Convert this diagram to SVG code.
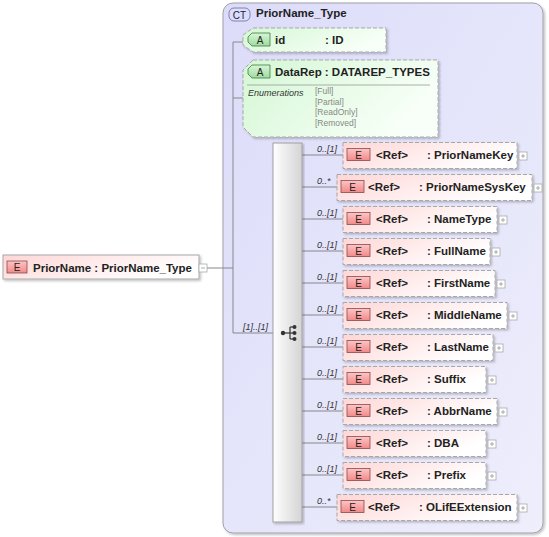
<svg xmlns="http://www.w3.org/2000/svg" width="549" height="537" viewBox="0 0 549 537">
<defs>
<linearGradient id="gCT" x1="0" y1="0" x2="1" y2="1"><stop offset="0" stop-color="#dcdcfa"/><stop offset="1" stop-color="#eeeefc"/></linearGradient>
<linearGradient id="gEl" x1="0" y1="0" x2="1" y2="0.4"><stop offset="0" stop-color="#ffd6d6"/><stop offset="1" stop-color="#ffffff"/></linearGradient>
<linearGradient id="gAt" x1="0" y1="0" x2="1" y2="0.4"><stop offset="0" stop-color="#d4f7d4"/><stop offset="1" stop-color="#f8fff8"/></linearGradient>
<linearGradient id="gEb" x1="0" y1="0" x2="0" y2="1"><stop offset="0" stop-color="#ffc4c4"/><stop offset="1" stop-color="#f08a8a"/></linearGradient>
<linearGradient id="gAb" x1="0" y1="0" x2="0" y2="1"><stop offset="0" stop-color="#d8f5d8"/><stop offset="1" stop-color="#9fdc9f"/></linearGradient>
<linearGradient id="gSeq" x1="0" y1="0" x2="1" y2="0"><stop offset="0" stop-color="#ffffff"/><stop offset="1" stop-color="#d4d4d4"/></linearGradient>
<filter id="sh" x="-5%" y="-5%" width="115%" height="130%"><feDropShadow dx="1.5" dy="1.5" stdDeviation="1" flood-color="#000" flood-opacity="0.25"/></filter>
</defs>
<style>
text{font-family:"Liberation Sans",Arial,sans-serif;fill:#222}
.b{font-weight:bold;font-size:11.5px}
.m{font-style:italic;font-size:9px;fill:#333}
.en{font-size:8.5px;fill:#888}
.badge{font-size:10px;fill:#222}
.el{fill:url(#gEl);stroke:#a8a8a8;stroke-dasharray:4,2;filter:url(#sh)}
.at{fill:url(#gAt);stroke:#a8a8a8;stroke-dasharray:4,2;filter:url(#sh)}
.eb{fill:url(#gEb);stroke:#8a4a4a;stroke-width:0.8}
.ab{fill:url(#gAb);stroke:#3c7a3c;stroke-width:0.8}
.pm{fill:#fff;stroke:#aaa;stroke-width:0.8}
.pms{stroke:#999;stroke-width:0.8}
.ln{stroke:#888;stroke-width:1;fill:none}
</style>

<g id="ct-PriorName_Type">
<rect x="223" y="3" width="320" height="530" rx="10" fill="url(#gCT)" stroke="#a0a0a8" filter="url(#sh)"/>
<rect x="229" y="8" width="21" height="13" rx="5" fill="#dcdcff" stroke="#6a6a9a" stroke-width="0.8"/>
<text x="239.5" y="18.5" class="badge" text-anchor="middle">CT</text>
<text x="256" y="17" class="b">PriorName_Type</text>
</g>

<g id="connectors">
<line class="ln" x1="207" y1="268" x2="233" y2="268"/>
<line class="ln" x1="233" y1="42" x2="233" y2="333"/>
<line class="ln" x1="233" y1="42" x2="243" y2="42"/>
<line class="ln" x1="233" y1="98" x2="243" y2="98"/>
<line class="ln" x1="233" y1="333" x2="273" y2="333"/>
<text x="243" y="330" class="m">[1]..[1]</text>
<g class="ln">
<line x1="302" y1="155" x2="343" y2="155"/>
<line x1="302" y1="187" x2="337" y2="187"/>
<line x1="302" y1="219" x2="343" y2="219"/>
<line x1="302" y1="251" x2="343" y2="251"/>
<line x1="302" y1="283" x2="343" y2="283"/>
<line x1="302" y1="315" x2="343" y2="315"/>
<line x1="302" y1="347" x2="343" y2="347"/>
<line x1="302" y1="379" x2="343" y2="379"/>
<line x1="302" y1="411" x2="343" y2="411"/>
<line x1="302" y1="443" x2="343" y2="443"/>
<line x1="302" y1="475" x2="343" y2="475"/>
<line x1="302" y1="507" x2="337" y2="507"/>
</g>
<text x="317" y="152" class="m">0..[1]</text>
<text x="317" y="184" class="m">0..*</text>
<text x="317" y="216" class="m">0..[1]</text>
<text x="317" y="248" class="m">0..[1]</text>
<text x="317" y="280" class="m">0..[1]</text>
<text x="317" y="312" class="m">0..[1]</text>
<text x="317" y="344" class="m">0..[1]</text>
<text x="317" y="376" class="m">0..[1]</text>
<text x="317" y="408" class="m">0..[1]</text>
<text x="317" y="440" class="m">0..[1]</text>
<text x="317" y="472" class="m">0..[1]</text>
<text x="317" y="504" class="m">0..*</text>
</g>

<g id="el-PriorName">
<rect x="3" y="255" width="196" height="24" fill="url(#gEl)" stroke="#a8a8a8" filter="url(#sh)"/>
<rect x="7" y="261" width="20" height="12" class="eb"/>
<text x="17" y="271" class="badge" text-anchor="middle">E</text>
<text x="33" y="271.5" class="b">PriorName : PriorName_Type</text>
<rect x="199" y="264" width="8" height="8" class="pm"/>
<line x1="201" y1="268" x2="205" y2="268" class="pms"/>
</g>

<g id="attr-id">
<path d="M253,28 H386 V52 H253 L243,45 V35 Z" class="at"/>
<path d="M252,33 H270 V46 H252 L248,42 V37 Z" class="ab"/>
<text x="260" y="43.5" class="badge" text-anchor="middle">A</text>
<text x="275" y="44" class="b">id</text>
<text x="325" y="44" class="b">: ID</text>
</g>

<g id="attr-DataRep">
<path d="M253,60 H438 V137 H253 L243,127 V70 Z" class="at"/>
<path d="M252,65 H270 V78 H252 L248,74 V69 Z" class="ab"/>
<text x="260" y="75.5" class="badge" text-anchor="middle">A</text>
<text x="275" y="76" class="b">DataRep : DATAREP_TYPES</text>
<line x1="247" y1="85" x2="430" y2="85" stroke="#999" stroke-width="0.8"/>
<text x="248" y="96" class="m">Enumerations</text>
<text x="315" y="94" class="en">[Full]</text>
<text x="315" y="104.5" class="en">[Partial]</text>
<text x="315" y="115" class="en">[ReadOnly]</text>
<text x="315" y="126" class="en">[Removed]</text>
</g>

<g id="sequence">
<rect x="273" y="143" width="29" height="379" fill="url(#gSeq)" stroke="#a0a0a0" filter="url(#sh)"/>
<circle cx="283" cy="333" r="2.2" fill="#333"/>
<line x1="283" y1="333" x2="290" y2="333" stroke="#333" stroke-width="1.2"/>
<line x1="290" y1="327" x2="290" y2="339" stroke="#333" stroke-width="1.2"/>
<line x1="290" y1="327" x2="294" y2="327" stroke="#333" stroke-width="1.2"/>
<line x1="290" y1="339" x2="294" y2="339" stroke="#333" stroke-width="1.2"/>
<line x1="290" y1="333" x2="294" y2="333" stroke="#333" stroke-width="1.2"/>
<circle cx="294.5" cy="327" r="2" fill="#333"/>
<circle cx="294.5" cy="333" r="2" fill="#333"/>
<circle cx="294.5" cy="339" r="2" fill="#333"/>
</g>

<g id="el-PriorNameKey">
<rect x="343" y="142.5" width="174" height="26" class="el"/>
<rect x="347" y="148.5" width="23" height="12" class="eb"/><text x="358.5" y="158.5" class="badge" text-anchor="middle">E</text>
<text x="376" y="159" class="b">&lt;Ref&gt;</text><text x="427" y="159" class="b">: PriorNameKey</text>
<rect x="519" y="152" width="8" height="8" class="pm"/><path d="M521,156H525M523,154V158" class="pms"/>
</g>
<g id="el-PriorNameSysKey">
<rect x="337" y="174.5" width="195" height="26" class="el"/>
<rect x="341" y="180.5" width="23" height="12" class="eb"/><text x="352.5" y="190.5" class="badge" text-anchor="middle">E</text>
<text x="368" y="191" class="b">&lt;Ref&gt;</text><text x="419" y="191" class="b">: PriorNameSysKey</text>
<rect x="534" y="184" width="8" height="8" class="pm"/><path d="M536,188H540M538,186V190" class="pms"/>
</g>
<g id="el-NameType">
<rect x="343" y="206.5" width="154" height="26" class="el"/>
<rect x="347" y="212.5" width="23" height="12" class="eb"/><text x="358.5" y="222.5" class="badge" text-anchor="middle">E</text>
<text x="376" y="223" class="b">&lt;Ref&gt;</text><text x="427" y="223" class="b">: NameType</text>
<rect x="499" y="216" width="8" height="8" class="pm"/><path d="M501,220H505M503,218V222" class="pms"/>
</g>
<g id="el-FullName">
<rect x="343" y="238.5" width="147" height="26" class="el"/>
<rect x="347" y="244.5" width="23" height="12" class="eb"/><text x="358.5" y="254.5" class="badge" text-anchor="middle">E</text>
<text x="376" y="255" class="b">&lt;Ref&gt;</text><text x="427" y="255" class="b">: FullName</text>
<rect x="492" y="248" width="8" height="8" class="pm"/><path d="M494,252H498M496,250V254" class="pms"/>
</g>
<g id="el-FirstName">
<rect x="343" y="270.5" width="152" height="26" class="el"/>
<rect x="347" y="276.5" width="23" height="12" class="eb"/><text x="358.5" y="286.5" class="badge" text-anchor="middle">E</text>
<text x="376" y="287" class="b">&lt;Ref&gt;</text><text x="427" y="287" class="b">: FirstName</text>
<rect x="497" y="280" width="8" height="8" class="pm"/><path d="M499,284H503M501,282V286" class="pms"/>
</g>
<g id="el-MiddleName">
<rect x="343" y="302.5" width="164" height="26" class="el"/>
<rect x="347" y="308.5" width="23" height="12" class="eb"/><text x="358.5" y="318.5" class="badge" text-anchor="middle">E</text>
<text x="376" y="319" class="b">&lt;Ref&gt;</text><text x="427" y="319" class="b">: MiddleName</text>
<rect x="509" y="312" width="8" height="8" class="pm"/><path d="M511,316H515M513,314V318" class="pms"/>
</g>
<g id="el-LastName">
<rect x="343" y="334.5" width="150" height="26" class="el"/>
<rect x="347" y="340.5" width="23" height="12" class="eb"/><text x="358.5" y="350.5" class="badge" text-anchor="middle">E</text>
<text x="376" y="351" class="b">&lt;Ref&gt;</text><text x="427" y="351" class="b">: LastName</text>
<rect x="495" y="344" width="8" height="8" class="pm"/><path d="M497,348H501M499,346V350" class="pms"/>
</g>
<g id="el-Suffix">
<rect x="343" y="366.5" width="143" height="26" class="el"/>
<rect x="347" y="372.5" width="23" height="12" class="eb"/><text x="358.5" y="382.5" class="badge" text-anchor="middle">E</text>
<text x="376" y="383" class="b">&lt;Ref&gt;</text><text x="427" y="383" class="b">: Suffix</text>
<rect x="488" y="376" width="8" height="8" class="pm"/><path d="M490,380H494M492,378V382" class="pms"/>
</g>
<g id="el-AbbrName">
<rect x="343" y="398.5" width="154" height="26" class="el"/>
<rect x="347" y="404.5" width="23" height="12" class="eb"/><text x="358.5" y="414.5" class="badge" text-anchor="middle">E</text>
<text x="376" y="415" class="b">&lt;Ref&gt;</text><text x="427" y="415" class="b">: AbbrName</text>
<rect x="499" y="408" width="8" height="8" class="pm"/><path d="M501,412H505M503,410V414" class="pms"/>
</g>
<g id="el-DBA">
<rect x="343" y="430.5" width="143" height="26" class="el"/>
<rect x="347" y="436.5" width="23" height="12" class="eb"/><text x="358.5" y="446.5" class="badge" text-anchor="middle">E</text>
<text x="376" y="447" class="b">&lt;Ref&gt;</text><text x="427" y="447" class="b">: DBA</text>
<rect x="488" y="440" width="8" height="8" class="pm"/><path d="M490,444H494M492,442V446" class="pms"/>
</g>
<g id="el-Prefix">
<rect x="343" y="462.5" width="143" height="26" class="el"/>
<rect x="347" y="468.5" width="23" height="12" class="eb"/><text x="358.5" y="478.5" class="badge" text-anchor="middle">E</text>
<text x="376" y="479" class="b">&lt;Ref&gt;</text><text x="427" y="479" class="b">: Prefix</text>
<rect x="488" y="472" width="8" height="8" class="pm"/><path d="M490,476H494M492,474V478" class="pms"/>
</g>
<g id="el-OLifEExtension">
<rect x="337" y="494.5" width="180" height="26" class="el"/>
<rect x="341" y="500.5" width="23" height="12" class="eb"/><text x="352.5" y="510.5" class="badge" text-anchor="middle">E</text>
<text x="368" y="511" class="b">&lt;Ref&gt;</text><text x="419" y="511" class="b">: OLifEExtension</text>
<rect x="519" y="504" width="8" height="8" class="pm"/><path d="M521,508H525M523,506V510" class="pms"/>
</g>
</svg>
